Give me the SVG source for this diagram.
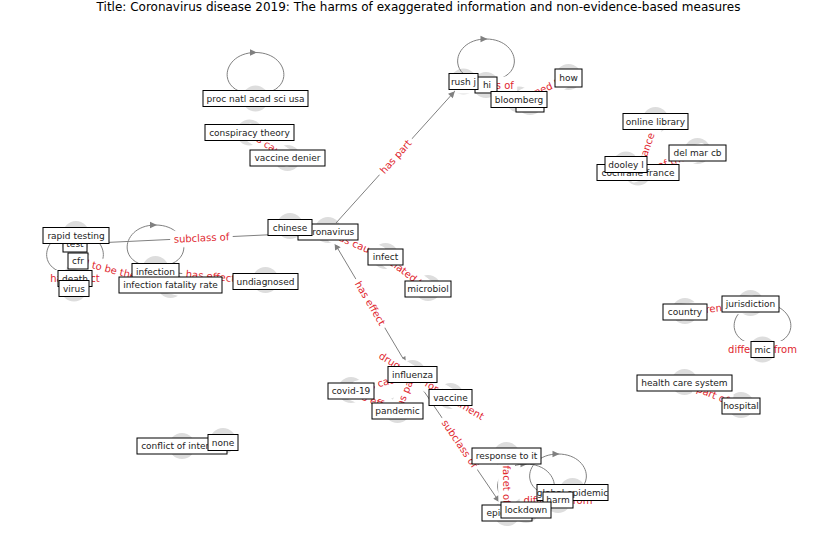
<svg xmlns="http://www.w3.org/2000/svg" width="837" height="559" viewBox="0 0 837 559">
<defs>
<marker id="arr" viewBox="0 0 10 10" refX="10" refY="5" markerWidth="8" markerHeight="6.5" orient="auto-start-reverse" markerUnits="userSpaceOnUse"><path d="M0,0 L10,5 L0,10 z" fill="#808080"/></marker>
<style>
.t{font-family:"DejaVu Sans",sans-serif;}
.title{font-size:12px;fill:#000;}
.dot{fill:#dddddd;}
.e{stroke:#808080;stroke-width:1;fill:none;}
.ah{fill:#808080;}
.lb rect{fill:#fff;stroke:#fff;}
.lb text{font-family:"DejaVu Sans",sans-serif;font-size:10px;fill:#e0262e;text-anchor:middle;}
.n rect{fill:#fff;stroke:#000;stroke-width:1;}
.n text{font-family:"DejaVu Sans",sans-serif;font-size:9px;fill:#222;text-anchor:middle;}
</style>
</defs>
<rect width="837" height="559" fill="#fff"/>
<text class="t title" x="418.5" y="11" text-anchor="middle">Title: Coronavirus disease 2019: The harms of exaggerated information and non-evidence-based measures</text>

<g id="node-dots">
<circle class="dot" cx="255.5" cy="98.5" r="13"/>
<circle class="dot" cx="249.5" cy="132.5" r="13"/>
<circle class="dot" cx="287.5" cy="158" r="13"/>
<circle class="dot" cx="463.5" cy="81.5" r="13"/>
<circle class="dot" cx="486" cy="85" r="13"/>
<circle class="dot" cx="530" cy="102" r="13"/>
<circle class="dot" cx="519" cy="99.5" r="13"/>
<circle class="dot" cx="568.5" cy="77" r="13"/>
<circle class="dot" cx="655.5" cy="120" r="13"/>
<circle class="dot" cx="697.5" cy="151" r="13"/>
<circle class="dot" cx="626" cy="164.5" r="13"/>
<circle class="dot" cx="638" cy="172.5" r="13"/>
<circle class="dot" cx="76" cy="234" r="13"/>
<circle class="dot" cx="75" cy="244" r="13"/>
<circle class="dot" cx="78" cy="261" r="13"/>
<circle class="dot" cx="75" cy="278.5" r="13"/>
<circle class="dot" cx="74" cy="288.5" r="13"/>
<circle class="dot" cx="155.5" cy="269" r="13"/>
<circle class="dot" cx="170.5" cy="285" r="13"/>
<circle class="dot" cx="265.5" cy="280" r="13"/>
<circle class="dot" cx="290" cy="226" r="13"/>
<circle class="dot" cx="328" cy="230" r="13"/>
<circle class="dot" cx="385.5" cy="256" r="13"/>
<circle class="dot" cx="428" cy="288" r="13"/>
<circle class="dot" cx="412.5" cy="373" r="13"/>
<circle class="dot" cx="351" cy="390" r="13"/>
<circle class="dot" cx="397.5" cy="410" r="13"/>
<circle class="dot" cx="450.5" cy="396" r="13"/>
<circle class="dot" cx="506.5" cy="455" r="13"/>
<circle class="dot" cx="507" cy="513" r="13"/>
<circle class="dot" cx="526" cy="510" r="13"/>
<circle class="dot" cx="572.5" cy="491" r="13"/>
<circle class="dot" cx="558" cy="500" r="13"/>
<circle class="dot" cx="685" cy="311" r="13"/>
<circle class="dot" cx="750.5" cy="303" r="13"/>
<circle class="dot" cx="762.5" cy="349.5" r="13"/>
<circle class="dot" cx="684.5" cy="382" r="13"/>
<circle class="dot" cx="741" cy="405" r="13"/>
<circle class="dot" cx="182" cy="446" r="13"/>
<circle class="dot" cx="223" cy="441" r="13"/>
</g>

<g id="connectors">
<line class="e" x1="336" y1="223" x2="454.8" y2="91.2" marker-end="url(#arr)"/>
<line class="e" x1="87" y1="243.4" x2="315" y2="232.6" marker-end="url(#arr)"/>
<line class="e" x1="339" y1="236.8" x2="373.6" y2="251.8" marker-end="url(#arr)"/>
<line class="e" x1="395.9" y1="264.8" x2="417.6" y2="281.2" marker-end="url(#arr)"/>
<line class="e" x1="405.9" y1="363.3" x2="334.6" y2="243.2" marker-start="url(#arr)" marker-end="url(#arr)"/>
<line class="e" x1="423.6" y1="381.2" x2="439.4" y2="390.8" marker-end="url(#arr)"/>
<line class="e" x1="419.3" y1="384.4" x2="499.6" y2="502.3" marker-end="url(#arr)"/>
<line class="e" x1="362.6" y1="387.9" x2="400" y2="377.9" marker-end="url(#arr)"/>
<line class="e" x1="408" y1="385.6" x2="402.4" y2="399" marker-end="url(#arr)"/>
<line class="e" x1="362" y1="395.7" x2="385.5" y2="405.9" marker-end="url(#arr)"/>
<line class="e" x1="506.6" y1="468" x2="506.9" y2="500" marker-end="url(#arr)"/>
<line class="e" x1="158.9" y1="282" x2="90.6" y2="264.3" marker-end="url(#arr)"/>
<line class="e" x1="167.4" y1="272.1" x2="252.6" y2="280.3" marker-end="url(#arr)"/>
<line class="e" x1="259.5" y1="139.2" x2="276.7" y2="150.8" marker-end="url(#arr)"/>
<line class="e" x1="530" y1="94.7" x2="556.6" y2="83.2" marker-end="url(#arr)"/>
<line class="e" x1="641.9" y1="161.1" x2="651.3" y2="133.8" marker-end="url(#arr)"/>
<line class="e" x1="649.4" y1="168.8" x2="685.1" y2="157" marker-end="url(#arr)"/>
<line class="e" x1="697" y1="310.5" x2="737.6" y2="305.6" marker-end="url(#arr)"/>
<line class="e" x1="729.9" y1="401.5" x2="696.5" y2="387.9" marker-end="url(#arr)"/>
<path class="e" d="M247.5 93.5 C215.5 88.5 223.5 52.5 255.5 52.5 C287.5 52.5 295.5 88.5 263.5 93.5"/>
<polygon class="ah" points="257,52.5 250,49.3 250,55.7"/>
<path class="e" d="M478 80 C446 75 454 39 486 39 C518 39 526 75 494 80"/>
<polygon class="ah" points="487.5,39 480.5,35.8 480.5,42.2"/>
<path class="e" d="M147.5 266 C115.5 261 123.5 225 155.5 225 C187.5 225 195.5 261 163.5 266"/>
<polygon class="ah" points="157,225 150,221.8 150,228.2"/>
<path class="e" d="M67 273.5 C35 268.5 43 232.5 75 232.5 C107 232.5 115 268.5 83 273.5"/>
<path class="e" d="M754.5 344.5 C722.5 339.5 730.5 303.5 762.5 303.5 C794.5 303.5 802.5 339.5 770.5 344.5"/>
<path class="e" d="M550 495 C518 490 526 454 558 454 C590 454 598 490 566 495"/>
<polygon class="ah" points="559.5,454 552.5,450.8 552.5,457.2"/>
<path class="e" d="M518 505 C486 500 494 464 526 464 C558 464 566 500 534 505"/>
<polygon class="ah" points="527.5,464 520.5,460.8 520.5,467.2"/>
</g>

<g id="edge-labels" class="lb">
<g transform="translate(395.7 156.7) rotate(-48)"><rect x="-23.7" y="-8" width="47.4" height="16" rx="3"/><text y="3.5">has part</text></g>
<g transform="translate(201.5 238) rotate(-2.7)"><rect x="-30.8" y="-8" width="61.5" height="16" rx="3"/><text y="3.5">subclass of</text></g>
<g transform="translate(356.75 244.5) rotate(23.5)"><rect x="-28.1" y="-8" width="56.2" height="16" rx="3"/><text y="3.5">has cause</text></g>
<g transform="translate(406.75 273) rotate(37)"><rect x="-27.4" y="-8" width="54.8" height="16" rx="3"/><text y="3.5">related to</text></g>
<g transform="translate(370.25 303.25) rotate(59.3)"><rect x="-27.8" y="-8" width="55.6" height="16" rx="3"/><text y="3.5">has effect</text></g>
<g transform="translate(431.5 386) rotate(31.2)"><rect x="-61.7" y="-8" width="123.3" height="16" rx="3"/><text y="3.5">drug used for treatment</text></g>
<g transform="translate(459.75 443.75) rotate(55.6)"><rect x="-30.8" y="-8" width="61.5" height="16" rx="3"/><text y="3.5">subclass of</text></g>
<g transform="translate(381.75 382.75) rotate(-15)"><rect x="-28.1" y="-8" width="56.2" height="16" rx="3"/><text y="3.5">has cause</text></g>
<g transform="translate(405 392.75) rotate(-67.7)"><rect x="-23.7" y="-8" width="47.4" height="16" rx="3"/><text y="3.5">has part</text></g>
<g transform="translate(374.25 401) rotate(23)"><rect x="-27.8" y="-8" width="55.6" height="16" rx="3"/><text y="3.5">has effect</text></g>
<g transform="translate(506.75 484.5) rotate(89.5)"><rect x="-22" y="-8" width="44" height="16" rx="3"/><text y="3.5">facet of</text></g>
<g transform="translate(124.25 273) rotate(14.5)"><rect x="-62.5" y="-8" width="125" height="16" rx="3"/><text y="3.5">said to be the same as</text></g>
<g transform="translate(210.5 276.25) rotate(5.5)"><rect x="-27.8" y="-8" width="55.6" height="16" rx="3"/><text y="3.5">has effect</text></g>
<g transform="translate(75 278.5)"><rect x="-27.8" y="-8" width="55.6" height="16" rx="3"/><text y="3.5">has effect</text></g>
<g transform="translate(486 85)"><rect x="-30.8" y="-8" width="61.5" height="16" rx="3"/><text y="3.5">subclass of</text></g>
<g transform="translate(762.5 349.5)"><rect x="-37.8" y="-8" width="75.5" height="16" rx="3"/><text y="3.5">different from</text></g>
<g transform="translate(558 500)"><rect x="-37.8" y="-8" width="75.5" height="16" rx="3"/><text y="3.5">different from</text></g>
<g transform="translate(646.75 147) rotate(-71)"><rect x="-30.6" y="-8" width="61.2" height="16" rx="3"/><text y="3.5">instance of</text></g>
<g transform="translate(667.75 162.75) rotate(-18)"><rect x="-40" y="-8" width="80" height="16" rx="3"/><text y="3.5">author of the work</text></g>
<g transform="translate(717.75 308) rotate(-7)"><rect x="-37.8" y="-8" width="75.5" height="16" rx="3"/><text y="3.5">different from</text></g>
<g transform="translate(712.75 394.5) rotate(22)"><rect x="-19.7" y="-8" width="39.3" height="16" rx="3"/><text y="3.5">part of</text></g>
<g transform="translate(268.5 145.25) rotate(34)"><rect x="-28.1" y="-8" width="56.2" height="16" rx="3"/><text y="3.5">has cause</text></g>
<g transform="translate(543.75 88.75) rotate(-23.5)"><rect x="-24" y="-8" width="48" height="16" rx="3"/><text y="3.5">owned by</text></g>
</g>

<g id="n-proc" class="n"><rect x="203" y="90.5" width="105" height="16"/><text x="255.5" y="101.5">proc natl acad sci usa</text></g>
<g id="n-conspiracy" class="n"><rect x="205" y="124.5" width="89" height="16"/><text x="249.5" y="135.5">conspiracy theory</text></g>
<g id="n-vaccine-denier" class="n"><rect x="250" y="150" width="75" height="16"/><text x="287.5" y="161">vaccine denier</text></g>
<g id="n-hi" class="n"><rect x="475" y="77" width="22" height="16"/><text x="487" y="88">hi</text></g>
<g id="n-rushj" class="n"><rect x="449" y="73.5" width="29" height="16"/><text x="463.5" y="84.5">rush j</text></g>
<g id="n-hidden" class="n"><rect x="516" y="96" width="28" height="16"/></g>
<g id="n-bloomberg" class="n"><rect x="491" y="91.5" width="56" height="16"/><text x="519" y="102.5">bloomberg</text></g>
<g id="n-how" class="n"><rect x="555" y="69" width="27" height="18"/><text x="568.5" y="81">how</text></g>
<g id="n-online" class="n"><rect x="623" y="113.5" width="65" height="16"/><text x="655.5" y="124.5">online library</text></g>
<g id="n-delmar" class="n"><rect x="669" y="145" width="57" height="16"/><text x="697.5" y="156">del mar cb</text></g>
<g id="n-cochrane" class="n"><rect x="597" y="164.5" width="82" height="16"/><text x="638" y="175.5">cochrane france</text></g>
<g id="n-dooley" class="n"><rect x="605" y="156.5" width="42" height="16"/><text x="626" y="167.5">dooley l</text></g>
<g id="n-cfr" class="n"><rect x="68" y="253" width="20" height="16"/><text x="78" y="264">cfr</text></g>
<g id="n-test" class="n"><rect x="63" y="236" width="24" height="16"/><text x="75" y="247">test</text></g>
<g id="n-rapid" class="n"><rect x="43" y="227.5" width="66" height="16"/><text x="76" y="238.5">rapid testing</text></g>
<g id="n-death" class="n"><rect x="58" y="270.5" width="34" height="16"/><text x="75" y="281.5">death</text></g>
<g id="n-virus" class="n"><rect x="59" y="280.5" width="30" height="16"/><text x="74" y="291.5">virus</text></g>
<g id="n-infection" class="n"><rect x="132" y="263.5" width="47" height="16"/><text x="155.5" y="274.5">infection</text></g>
<g id="n-ifr" class="n"><rect x="119" y="277" width="103" height="16"/><text x="170.5" y="288">infection fatality rate</text></g>
<g id="n-undiagnosed" class="n"><rect x="233" y="273.5" width="65" height="16"/><text x="265.5" y="284.5">undiagnosed</text></g>
<g id="n-coronavirus" class="n"><rect x="298" y="224" width="60" height="16"/><text x="328" y="235">coronavirus</text></g>
<g id="n-chinese" class="n"><rect x="268" y="219.5" width="44" height="16"/><text x="290" y="230.5">chinese</text></g>
<g id="n-infect" class="n"><rect x="368" y="249" width="35" height="16"/><text x="385.5" y="260">infect</text></g>
<g id="n-microbiol" class="n"><rect x="405" y="281" width="46" height="16"/><text x="428" y="292">microbiol</text></g>
<g id="n-influenza" class="n"><rect x="388" y="366.5" width="49" height="16"/><text x="412.5" y="377.5">influenza</text></g>
<g id="n-covid" class="n"><rect x="328" y="383" width="46" height="16"/><text x="351" y="394">covid-19</text></g>
<g id="n-pandemic" class="n"><rect x="372" y="403" width="51" height="16"/><text x="397.5" y="414">pandemic</text></g>
<g id="n-vaccine" class="n"><rect x="429" y="389.5" width="43" height="16"/><text x="450.5" y="400.5">vaccine</text></g>
<g id="n-response" class="n"><rect x="472" y="448" width="69" height="16"/><text x="506.5" y="459">response to it</text></g>
<g id="n-epidemic" class="n"><rect x="482" y="505" width="50" height="16"/><text x="507" y="516">epidemic</text></g>
<g id="n-global-epidemic" class="n"><rect x="537" y="484.5" width="71" height="16"/><text x="572.5" y="495.5">global epidemic</text></g>
<g id="n-harm" class="n"><rect x="543" y="492" width="30" height="16"/><text x="558" y="503">harm</text></g>
<g id="n-lockdown" class="n"><rect x="501" y="502" width="50" height="16"/><text x="526" y="513">lockdown</text></g>
<g id="n-country" class="n"><rect x="663" y="304" width="44" height="16"/><text x="685" y="315">country</text></g>
<g id="n-jurisdiction" class="n"><rect x="722" y="296" width="57" height="16"/><text x="750.5" y="307">jurisdiction</text></g>
<g id="n-mic" class="n"><rect x="751" y="341.5" width="23" height="16"/><text x="762.5" y="352.5">mic</text></g>
<g id="n-hcs" class="n"><rect x="637" y="375" width="95" height="16"/><text x="684.5" y="386">health care system</text></g>
<g id="n-hospital" class="n"><rect x="722" y="398" width="38" height="16"/><text x="741" y="409">hospital</text></g>
<g id="n-coi" class="n"><rect x="137" y="438" width="90" height="16"/><text x="182" y="449">conflict of interest</text></g>
<g id="n-none" class="n"><rect x="208" y="434.5" width="30" height="16"/><text x="223" y="445.5">none</text></g>
</svg>
